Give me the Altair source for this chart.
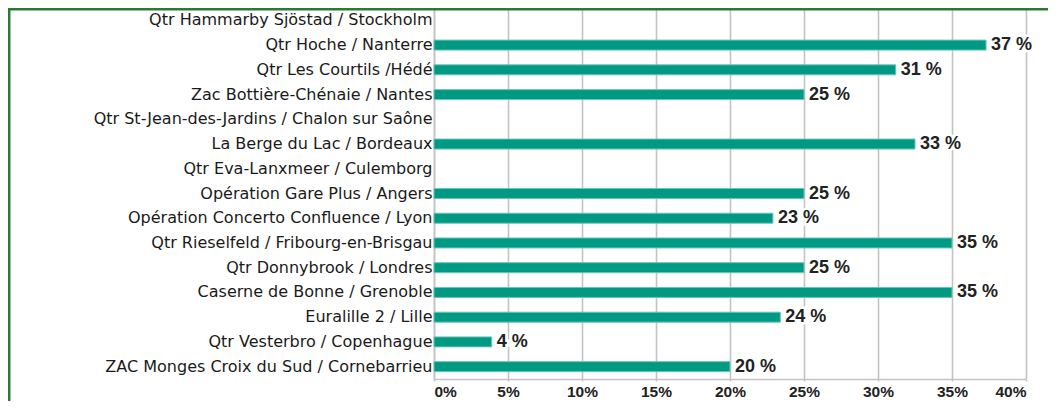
import altair as alt
import pandas as pd

categories = [
    "Qtr Hammarby Sjöstad / Stockholm",
    "Qtr Hoche / Nanterre",
    "Qtr Les Courtils /Hédé",
    "Zac Bottière-Chénaie / Nantes",
    "Qtr St-Jean-des-Jardins / Chalon sur Saône",
    "La Berge du Lac / Bordeaux",
    "Qtr Eva-Lanxmeer / Culemborg",
    "Opération Gare Plus / Angers",
    "Opération Concerto Confluence / Lyon",
    "Qtr Rieselfeld / Fribourg-en-Brisgau",
    "Qtr Donnybrook / Londres",
    "Caserne de Bonne / Grenoble",
    "Euralille 2 / Lille",
    "Qtr Vesterbro / Copenhague",
    "ZAC Monges Croix du Sud / Cornebarrieu",
]
values = [None, 37.3, 31.2, 25.0, None, 32.5, None, 25.0, 22.9, 35.0, 25.0, 35.0, 23.4, 3.9, 20.0]
labels = ["", "37 %", "31 %", "25 %", "", "33 %", "", "25 %", "23 %", "35 %", "25 %", "35 %", "24 %", "4 %", "20 %"]
ticks = [0, 5, 10, 15, 20, 25, 30, 35, 40]

df = pd.DataFrame({"site": categories, "value": values, "label": labels})

GRID = "#c6c2c2"
GREEN = "#2a7a30"

x_enc = alt.X(
    "value:Q",
    scale=alt.Scale(domain=[0, 40], nice=False),
    axis=alt.Axis(
        values=ticks,
        labelExpr="datum.value + '%'",
        title=None,
        grid=True,
        gridColor=GRID,
        gridWidth=1.6,
        domainColor=GRID,
        domainWidth=1.6,
        tickColor=GRID,
        tickSize=2,
        tickWidth=1.6,
        labelFont="Liberation Sans",
        labelFontWeight="bold",
        labelFontSize=15.5,
        labelColor="#222222",
        labelPadding=3,
    ),
)
y_scale = alt.Scale(domain=categories, paddingInner=0, paddingOuter=0)
y_enc = alt.Y(
    "site:N",
    sort=categories,
    scale=y_scale,
    axis=alt.Axis(
        title=None,
        ticks=False,
        domainColor=GRID,
        domainWidth=1.6,
        labelFont="DejaVu Sans",
        labelFontSize=16,
        labelColor="#1a1a1a",
        labelPadding=2,
        labelLimit=0,
    ),
)

base = alt.Chart(df).transform_filter("datum.value != null")

bars = base.mark_bar(size=10, color="#009984", stroke="#6cc6b6", strokeWidth=1).encode(x=x_enc, y=y_enc)

halo = base.mark_text(
    align="left", baseline="middle", dx=5, font="Liberation Sans", fontWeight="bold",
    fontSize=18, fill="white", stroke="white", strokeWidth=5,
).encode(x="value:Q", y=alt.Y("site:N", sort=categories, scale=y_scale), text="label:N")

text = base.mark_text(
    align="left", baseline="middle", dx=5, font="Liberation Sans", fontWeight="bold",
    fontSize=18, color="#222222",
).encode(x="value:Q", y=alt.Y("site:N", sort=categories, scale=y_scale), text="label:N")

frame_df = pd.DataFrame({"k": [0]})
top_border = alt.Chart(frame_df).mark_rule(color=GREEN, strokeWidth=2.5).encode(
    x=alt.value(-426), x2=alt.value(630), y=alt.value(1.2)
)
left_border = alt.Chart(frame_df).mark_rule(color=GREEN, strokeWidth=2.5).encode(
    x=alt.value(-424.8), y=alt.value(0), y2=alt.value(410)
)

chart = (
    alt.layer(bars, halo, text, top_border, left_border)
    .properties(
        width=592,
        height=371,
        padding={"left": 426, "top": 0, "right": 22, "bottom": 22},
        autosize=alt.AutoSizeParams(type="none"),
        background="white",
    )
    .configure_view(stroke=None)
)

chart.save("out.html", embed_options={"renderer": "svg", "actions": False})
